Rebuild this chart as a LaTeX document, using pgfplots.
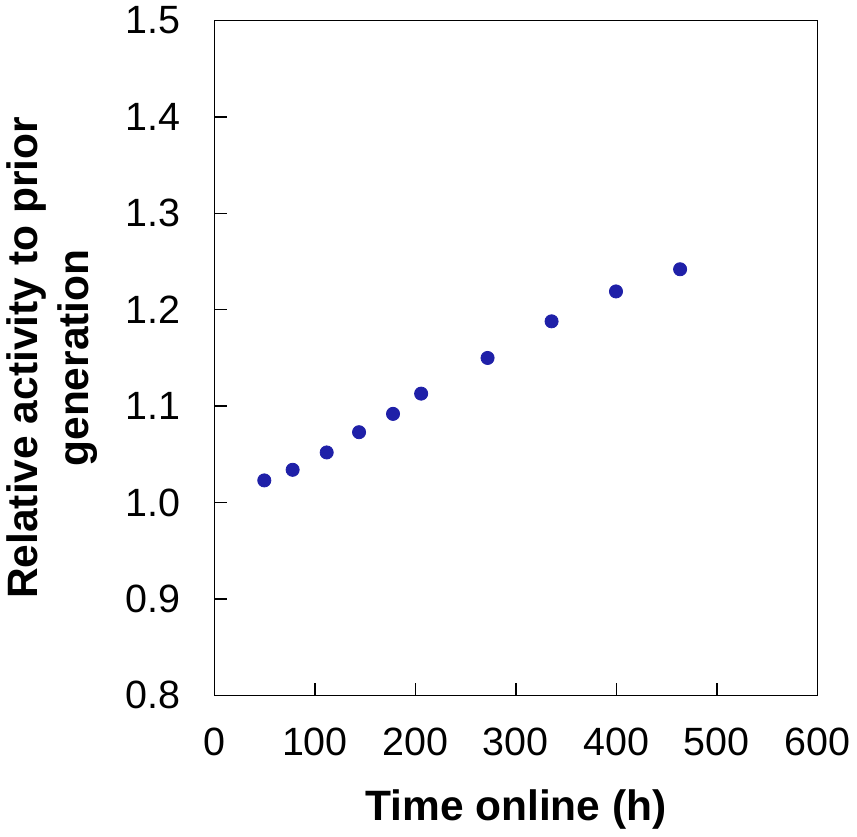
\documentclass[border=0pt]{standalone}
\usepackage{fontspec}
\setmainfont{Liberation Sans}
\usepackage{pgfplots}
\pgfplotsset{compat=1.18}
\definecolor{dotblue}{RGB}{31,32,168}

\begin{document}
\begin{tikzpicture}
\begin{axis}[
    width=298pt, height=333.6pt,
    scale only axis,
    xmin=0, xmax=600,
    ymin=0.8, ymax=1.5,
    xtick={0,100,...,600},
    ytick={0.8,0.9,...,1.5},
    axis line style={line width=0.8pt},
    tick style={black, line width=0.7pt},
    major tick length=6pt,
    tick align=inside,
    xtick pos=bottom, ytick pos=left,
    font=\fontsize{19.5}{24}\selectfont,
    /pgf/number format/assume math mode=true,
    /pgf/number format/.cd, fixed, fixed zerofill, precision=1, /pgfplots/.cd,
    xticklabel style={/pgf/number format/precision=0, /pgf/number format/fixed zerofill=false, yshift=-12.5pt},
    yticklabel style={xshift=-13.5pt},
    xlabel={Time online (h)},
    ylabel={Relative activity to prior\\ generation},
    label style={font=\fontsize{21}{25}\selectfont\bfseries},
    ylabel style={align=center, yshift=7pt},
    xlabel style={yshift=-10pt},
]
\addplot[only marks, mark=*, mark size=3.25pt, dotblue, mark options={fill=dotblue, draw=dotblue}]
coordinates {
(49.6,1.023) (77.8,1.034) (111.7,1.052) (143.9,1.073) (177.7,1.092)
(205.7,1.113) (271.8,1.150) (335.5,1.188) (399.6,1.219) (463.4,1.242)
};
\end{axis}
\end{tikzpicture}
\end{document}
